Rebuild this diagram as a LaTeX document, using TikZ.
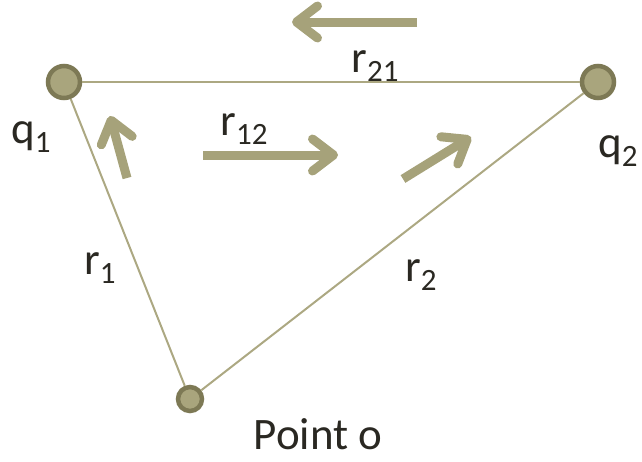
\documentclass[tikz,border=0pt]{standalone}
\usepackage{fontspec}
\setmainfont{Carlito}
\usetikzlibrary{arrows.meta}
\definecolor{chargefill}{HTML}{A9A57D}
\definecolor{chargedraw}{HTML}{7D7955}
\definecolor{sidecol}{HTML}{ACA882}
\definecolor{forcecol}{HTML}{A6A27A}
\definecolor{txtcol}{HTML}{2A2822}
\newcommand{\sublbl}[2]{#1\raisebox{-0.45ex}{\fontsize{31}{33}\selectfont #2}}
\begin{document}
\begin{tikzpicture}[x=1pt,y=-1pt,
    charge/.style={circle,fill=chargefill,draw=chargedraw,line width=4.5pt,minimum size=32pt,inner sep=0pt},
    side/.style={draw=sidecol,line width=2pt},
    force/.style={draw=forcecol,line width=9pt,-{Straight Barb[round,length=21pt,width=32pt]}},
    lbl/.style={text=txtcol,font=\fontsize{45}{50}\selectfont,inner sep=0pt}]
  \useasboundingbox (0,0) rectangle (642,461);
  % charges and reference point
  \node[charge] (q1) at (64,82) {};
  \node[charge] (q2) at (598,82) {};
  \node[charge,minimum size=24pt] (o) at (190,399) {};
  % sides of the triangle
  \draw[side] (q1) -- (q2);
  \draw[side] (q1) -- (o);
  \draw[side] (o) -- (q2);
  % arrows
  \coordinate (a21s) at (417,22); \coordinate (a21e) at (292,22);
  \coordinate (a12s) at (203,155); \coordinate (a12e) at (338,155);
  \coordinate (a1s) at (127,178); \coordinate (a1e) at (110,116);
  \coordinate (a2s) at (403,179); \coordinate (a2e) at (471,137);
  \draw[force] (a21s) -- (a21e);
  \draw[force] (a12s) -- (a12e);
  \draw[force] (a1s) -- (a1e);
  \draw[force] (a2s) -- (a2e);
  % labels
  \node[lbl] (lq1) at (31,137) {\sublbl{q}{1}};
  \node[lbl] (lq2) at (618,151) {\sublbl{q}{2}};
  \node[lbl] (lr21) at (375,66) {\sublbl{r}{21}};
  \node[lbl] (lr12) at (244,129) {\sublbl{r}{12}};
  \node[lbl] (lr1) at (100,268) {\sublbl{r}{1}};
  \node[lbl] (lr2) at (421,275) {\sublbl{r}{2}};
  \node[lbl,anchor=base] (lo) at (318,449) {Point o};
\end{tikzpicture}
\end{document}
